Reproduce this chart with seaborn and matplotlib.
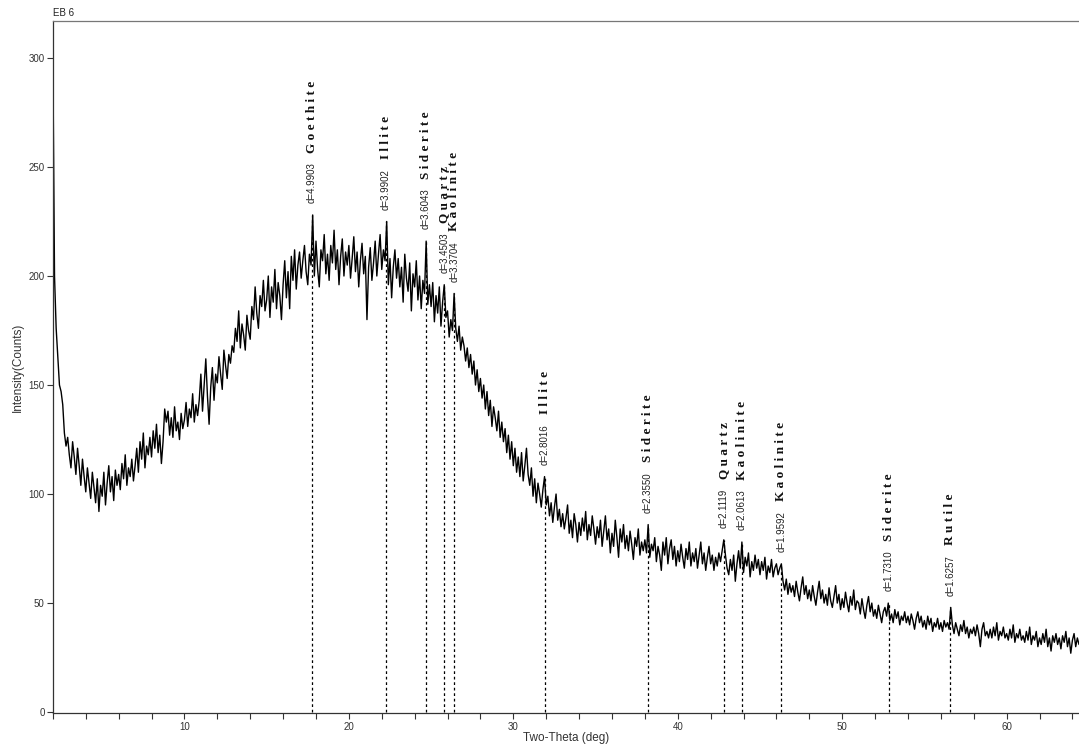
#!/usr/bin/env python3

import numpy as np
import matplotlib
matplotlib.use("Agg")
import matplotlib.pyplot as plt
from matplotlib.ticker import MultipleLocator, FuncFormatter
import seaborn as sns

# =========================================================
# XRD scan (EB 6)
# =========================================================
SAMPLE_NAME = "EB 6"
TWO_THETA_START = 2.0
TWO_THETA_STEP = 0.1

# one row = one degree of two-theta (10 steps of 0.1 deg)
counts = [
    300, 200, 176, 163, 150, 147, 141, 128, 122, 126,   # 2
    118, 112, 124, 117, 109, 121, 113, 104, 116, 108,   # 3
    101, 112, 105, 98, 110, 103, 96, 107, 92, 104,      # 4
    99, 110, 95, 105, 113, 101, 108, 97, 111, 104,      # 5
    109, 102, 114, 107, 118, 104, 112, 108, 116, 106,   # 6
    113, 121, 110, 124, 116, 128, 112, 122, 118, 126,   # 7
    117, 129, 121, 132, 119, 127, 114, 124, 139, 133,   # 8
    138, 127, 135, 126, 140, 129, 133, 125, 137, 130,   # 9
    134, 142, 131, 139, 135, 146, 133, 141, 136, 143,   # 10
    155, 138, 150, 162, 145, 132, 149, 158, 143, 155,   # 11
    151, 163, 155, 148, 166, 159, 153, 164, 160, 168,   # 12
    165, 176, 170, 184, 167, 178, 173, 166, 182, 175,   # 13
    171, 186, 180, 195, 183, 176, 191, 186, 198, 184,   # 14
    189, 200, 181, 195, 188, 203, 185, 197, 191, 180,   # 15
    196, 207, 190, 202, 185, 209, 198, 212, 194, 205,   # 16
    211, 199, 207, 214, 202, 196, 210, 205, 228, 200,   # 17
    216, 203, 195, 212, 207, 219, 201, 210, 198, 214,   # 18
    206, 221, 203, 212, 196, 209, 217, 200, 211, 205,   # 19
    214, 199, 208, 218, 202, 211, 195, 207, 215, 201,   # 20
    209, 180, 204, 213, 198, 206, 216, 200, 210, 219,   # 21
    203, 212, 207, 225, 196, 208, 190, 204, 212, 199,   # 22
    208, 195, 204, 188, 210, 199, 193, 206, 184, 201,   # 23
    195, 207, 189, 200, 185, 198, 192, 216, 187, 196,   # 24
    186, 197, 179, 191, 183, 195, 177, 188, 196, 181,   # 25
    184, 172, 180, 175, 192, 176, 170, 177, 166, 172,   # 26
    168, 161, 167, 158, 164, 155, 161, 150, 157, 147,   # 27
    153, 144, 150, 139, 147, 136, 143, 131, 140, 135,   # 28
    129, 138, 126, 133, 124, 130, 119, 127, 116, 124,   # 29
    113, 121, 110, 117, 108, 119, 106, 113, 121, 109,   # 30
    104, 112, 99, 107, 96, 105, 100, 94, 102, 108,      # 31
    95, 99, 90, 96, 87, 94, 100, 88, 93, 85,            # 32
    91, 84, 89, 95, 82, 88, 80, 91, 86, 78,             # 33
    87, 81, 89, 83, 92, 79, 86, 81, 90, 84,             # 34
    77, 85, 80, 88, 76, 83, 90, 79, 84, 73,             # 35
    82, 76, 88, 80, 71, 84, 78, 86, 75, 81,             # 36
    74, 83, 77, 70, 80, 76, 84, 72, 78, 74,             # 37
    79, 73, 86, 71, 77, 74, 80, 69, 76, 72,             # 38
    65, 78, 72, 80, 68, 75, 79, 70, 76, 67,             # 39
    74, 69, 77, 71, 66, 75, 70, 78, 67, 73,             # 40
    69, 75, 66, 72, 78, 68, 73, 65, 71, 76,             # 41
    68, 72, 65, 71, 67, 73, 69, 74, 79, 72,             # 42
    66, 63, 70, 65, 72, 60, 68, 74, 66, 78,             # 43
    64, 71, 67, 73, 62, 69, 65, 72, 66, 70,             # 44
    63, 69, 65, 71, 61, 67, 64, 70, 62, 66,             # 45
    68, 63, 66, 68, 60, 56, 61, 54, 59, 55,             # 46
    58, 53, 60, 55, 51, 57, 62, 54, 58, 52,             # 47
    56, 51, 58, 53, 49, 55, 60, 52, 56, 50,             # 48
    54, 49, 57, 51, 48, 53, 58, 50, 54, 47,             # 49
    52, 48, 55, 50, 46, 53, 49, 56, 47, 51,             # 50
    50, 45, 52, 47, 43, 49, 53, 46, 50, 44,             # 51
    47, 43, 49, 45, 41, 46, 48, 44, 50, 42,             # 52
    45, 41, 47, 43, 46, 40, 44, 42, 46, 41,             # 53
    44, 40, 45, 42, 38, 43, 46, 41, 44, 39,             # 54
    42, 38, 44, 40, 43, 37, 41, 39, 43, 38,             # 55
    41, 37, 42, 39, 41, 38, 48, 40, 36, 41,             # 56
    38, 35, 40, 37, 42, 36, 39, 34, 38, 36,             # 57
    39, 35, 40, 36, 30, 38, 41, 35, 37, 34,             # 58
    38, 34, 39, 35, 41, 33, 37, 35, 39, 34,             # 59
    36, 33, 38, 34, 40, 32, 36, 34, 38, 33,             # 60
    35, 32, 37, 33, 39, 31, 35, 33, 37, 30,             # 61
    34, 31, 36, 32, 38, 30, 34, 28, 35, 32,             # 62
    36, 31, 34, 29, 35, 32, 37, 30, 34, 27,             # 63
    33, 36, 30, 34, 31,                                 # 64
]

# =========================================================
# Identified peaks
# =========================================================
peak_two_theta = [17.76, 22.26, 24.68, 25.80, 26.42, 31.92,
                  38.18, 42.79, 43.89, 46.30, 52.85, 56.57]
peak_counts = [228, 225, 216, 196, 192, 108, 86, 79, 78, 68, 50, 48]
d_spacing = ["4.9903", "3.9902", "3.6043", "3.4503", "3.3704", "2.8016",
             "2.3550", "2.1119", "2.0613", "1.9592", "1.7310", "1.6257"]
phases = ["Goethite", "Illite", "Siderite", "Quartz", "Kaolinite", "Illite",
          "Siderite", "Quartz", "Kaolinite", "Kaolinite", "Siderite", "Rutile"]

two_theta = TWO_THETA_START + TWO_THETA_STEP * np.arange(len(counts))

# =========================================================
# Plot
# =========================================================
sns.set_style("ticks")
plt.rcParams["font.family"] = ["Liberation Sans", "DejaVu Sans"]

fig = plt.figure(figsize=(10.79, 7.46), dpi=100)
ax = fig.add_axes([0.049, 0.044, 0.951, 0.928])

ax.vlines(peak_two_theta, 0, peak_counts, colors="black",
          linestyles=(0, (2.2, 2.2)), linewidth=0.9, zorder=1)

sns.lineplot(x=two_theta, y=counts, color="black", linewidth=1.0,
             ax=ax, zorder=2)

for tt, top, d, name in zip(peak_two_theta, peak_counts, d_spacing, phases):
    d_txt = ax.annotate(f"d={d}", xy=(tt, top), xytext=(0, 8.5),
                        textcoords="offset points", rotation=90,
                        ha="center", va="bottom", fontsize=7, color="#222222")
    ax.annotate(" ".join(name), xy=(0.5, 1), xycoords=d_txt,
                xytext=(0, 7), textcoords="offset points", rotation=90,
                ha="center", va="bottom", fontsize=9.5, fontweight="bold",
                family=["Liberation Serif", "DejaVu Serif"], color="#111111")

ax.set_xlim(2.0, 64.4)
ax.set_ylim(-0.5, 317)

ax.xaxis.set_major_locator(MultipleLocator(2))
ax.xaxis.set_major_formatter(
    FuncFormatter(lambda v, p: f"{int(round(v))}" if round(v) % 10 == 0 and v > 5 else ""))
ax.yaxis.set_major_locator(MultipleLocator(50))

ax.tick_params(axis="both", direction="out", length=4, width=0.8,
               labelsize=7, colors="#333333", pad=2)

ax.set_xlabel("Two-Theta (deg)", fontsize=8.5, color="#333333", labelpad=0)
ax.set_ylabel("Intensity(Counts)", fontsize=8.5, color="#333333", labelpad=3)

ax.text(0.0, 1.004, SAMPLE_NAME, transform=ax.transAxes, ha="left",
        va="bottom", fontsize=7, color="#222222")

for side in ["left", "bottom"]:
    ax.spines[side].set_color("#333333")
    ax.spines[side].set_linewidth(0.9)
ax.spines["top"].set_color("#777777")
ax.spines["top"].set_linewidth(0.9)
ax.spines["right"].set_visible(False)

fig.savefig("out.png", dpi=100)
